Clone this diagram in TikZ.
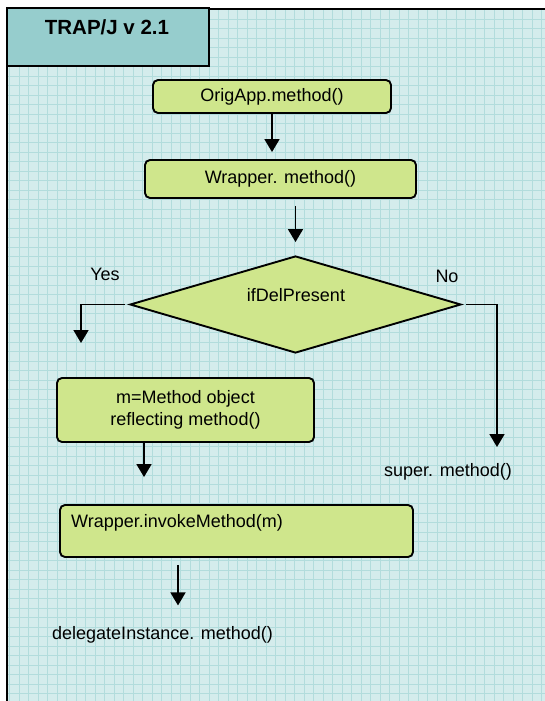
\documentclass[tikz,border=0pt]{standalone}
\usepackage{fontspec}
\setmainfont{Liberation Sans}
\usetikzlibrary{shapes.geometric,arrows.meta}
\definecolor{paper}{RGB}{212,236,236}
\definecolor{gridc}{RGB}{178,220,220}
\definecolor{tealbox}{RGB}{150,205,205}
\definecolor{limebox}{RGB}{207,230,140}
\tikzset{
  procbox/.style={draw,line width=1.9pt,rounded corners=5pt,fill=limebox,inner sep=0pt,font=\fontsize{18}{22}\selectfont},
  decision/.style={draw,line width=1.9pt,diamond,fill=limebox,inner sep=0pt},
  txt/.style={font=\fontsize{18}{22}\selectfont,inner sep=1pt},
  flow/.style={line width=1.8pt,-{Triangle[length=13pt,width=15pt]}},
}
\begin{document}
\begin{tikzpicture}[x=1pt,y=-1pt]
\useasboundingbox (0,0) rectangle (545,701);
% paper with grid
\fill[paper] (7,9) rectangle (545,701);
\draw[gridc,line width=0.7pt,step=9.5pt] (7,9) grid (545,701);
\draw[line width=2pt] (7,701) -- (7,9) -- (545,9);
\node[draw,line width=2pt,fill=tealbox,minimum width=202pt,minimum height=58pt,inner sep=0pt] (title) at (108,37) {};
\node[font=\fontsize{20.5}{24}\selectfont\bfseries] (titletext) at (107,27) {TRAP/J v 2.1};
% flow
\node[procbox,minimum width=238pt,minimum height=33pt] (orig) at (272,96.5) {OrigApp.method()};
\node[procbox,minimum width=271pt,minimum height=38pt] (wrap) at (280.5,179) {Wrapper. method()};
\node[decision,minimum width=331pt,minimum height=97pt] (delp) at (295.5,304.5) {};
\node[txt] (delptext) at (296,295) {ifDelPresent};
\node[txt] (yes) at (105,274) {Yes};
\node[txt] (no) at (447,276) {No};
\node[procbox,minimum width=257pt,minimum height=64pt,align=center] (mobj) at (185.5,410) {m=Method object\\reflecting method()};
\node[procbox,minimum width=353pt,minimum height=52pt] (invk) at (236.5,531) {};
\node[txt,anchor=west] (invktext) at (70,523) {Wrapper.invokeMethod(m)};
\node[txt] (super) at (448,472) {super. method()};
\node[txt,anchor=west] (deleg) at (51,635) {delegateInstance. method()};
\coordinate (yesend) at (81,343);
\coordinate (noend) at (497,447);
% connectors
\draw[flow,shorten >=7pt] (orig.south) -- (orig.south |- wrap.north);
\draw[flow,shorten <=7pt,shorten >=13pt] (delp.north |- wrap.south) -- (delp.north);
\draw[flow,shorten <=4pt] (delp.west) -| (yesend);
\draw[flow,shorten <=4pt] (delp.east) -| (noend);
\draw[flow,shorten >=27pt] ([xshift=-41.5pt]mobj.south) -- ([xshift=-41.5pt]mobj.south |- invk.north);
\draw[flow,shorten <=7pt,shorten >=20pt] ([xshift=-58.5pt]invk.south) -- ([xshift=-58.5pt]invk.south |- deleg.north);
\end{tikzpicture}
\end{document}
